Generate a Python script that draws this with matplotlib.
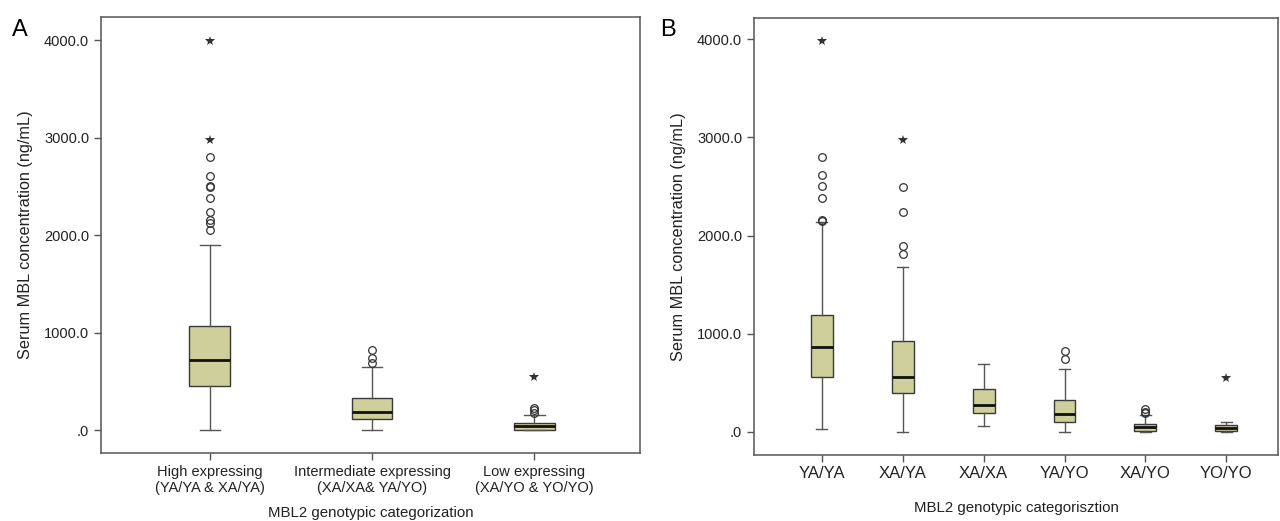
import numpy as np, matplotlib
matplotlib.use("Agg")
import matplotlib.pyplot as plt
from matplotlib.ticker import FuncFormatter

plt.rcParams['font.family'] = ['Liberation Sans Narrow', 'Liberation Sans', 'DejaVu Sans']

# Panel A: three expression groups
A_labels = ["High expressing\n(YA/YA & XA/YA)", "Intermediate expressing\n(XA/XA& YA/YO)",
            "Low expressing\n(XA/YO & YO/YO)"]
A_q1 = [454, 116, 3]
A_med = [718, 188, 38]
A_q3 = [1067, 331, 69]
A_lo = [0, 0, 0]
A_hi = [1897, 646, 157]
A_circles = [[2803, 2612, 2506, 2490, 2379, 2243, 2154, 2126, 2051],
             [820, 741, 690],
             [222, 202, 178]]
A_stars = [[3990, 2974], [], [544]]

# Panel B: six genotypes
B_labels = ["YA/YA", "XA/YA", "XA/XA", "YA/YO", "XA/YO", "YO/YO"]
B_q1 = [564, 395, 190, 105, 10, 13]
B_med = [860, 564, 276, 184, 48, 44]
B_q3 = [1194, 929, 439, 327, 82, 71]
B_lo = [31, 0, 58, 0, 0, 0]
B_hi = [2136, 1684, 694, 643, 173, 105]
B_circles = [[2803, 2612, 2503, 2378, 2156, 2143],
             [2497, 2242, 1891, 1813],
             [],
             [820, 745],
             [231, 204, 190],
             []]
B_stars = [[3980], [2969], [], [], [], [551]]

FILL = '#cfcf9b'
EDGE = '#3a3a3a'
GRAY = '#555555'

def fmt(v, pos):
    s = f"{v:.1f}"
    return s[1:] if s.startswith("0") else s

def panel(ax, labels, q1, med, q3, lo, hi, circles, stars, width, xlim, ylim):
    stats = [dict(q1=a, med=m, q3=b, whislo=l, whishi=h, fliers=[])
             for a, m, b, l, h in zip(q1, med, q3, lo, hi)]
    pos = np.arange(1, len(labels) + 1)
    ax.bxp(stats, positions=pos, widths=width, patch_artist=True, showfliers=False,
           boxprops=dict(facecolor=FILL, edgecolor=EDGE, linewidth=1.0),
           medianprops=dict(color='#111111', linewidth=2.0),
           whiskerprops=dict(color=GRAY, linewidth=1.0),
           capprops=dict(color=GRAY, linewidth=1.0), capwidths=width * 0.5)
    for p, c, s in zip(pos, circles, stars):
        if c:
            ax.plot([p] * len(c), c, 'o', ms=5.5, mfc='none', mec='#333333', mew=0.9)
        if s:
            ax.plot([p] * len(s), s, '*', ms=7, color='#333333', mew=0)
    ax.set_xlim(*xlim)
    ax.set_ylim(*ylim)
    ax.set_xticks(pos)
    ax.set_xticklabels(labels)
    ax.set_yticks([0, 1000, 2000, 3000, 4000])
    ax.yaxis.set_major_formatter(FuncFormatter(fmt))
    ax.tick_params(axis='both', direction='out', length=5, color=GRAY, width=1.0,
                   labelsize=10.5, labelcolor='#222222')
    for sp in ax.spines.values():
        sp.set_color(GRAY)
        sp.set_linewidth(1.1)
    ax.set_ylabel("Serum MBL concentration (ng/mL)", fontsize=11.7, color='#222222',
                  labelpad=8)

fig = plt.figure(figsize=(12.8, 5.21), dpi=100)
axA = fig.add_axes([101/1280, 1-453/521, 539/1280, 436/521])
axB = fig.add_axes([754/1280, 1-455/521, 524/1280, 437/521])

panel(axA, A_labels, A_q1, A_med, A_q3, A_lo, A_hi, A_circles, A_stars,
      0.25, (0.33, 3.65), (-236, 4240))
axA.set_xlabel("MBL2 genotypic categorization", fontsize=10.8, color='#222222', labelpad=8)
axA.tick_params(axis='x', labelsize=10.5)

panel(axB, B_labels, B_q1, B_med, B_q3, B_lo, B_hi, B_circles, B_stars,
      0.27, (0.16, 6.64), (-235, 4215))
axB.set_xlabel("MBL2 genotypic categorisztion", fontsize=10.8, color='#222222', labelpad=14)
axB.tick_params(axis='x', labelsize=12, pad=3)

fig.text(12/1280, 1-30/521, "A", fontsize=17, va='center', ha='left')
fig.text(660/1280, 1-30/521, "B", fontsize=17, va='center', ha='left')

fig.savefig("out.png", dpi=100, facecolor='white')
